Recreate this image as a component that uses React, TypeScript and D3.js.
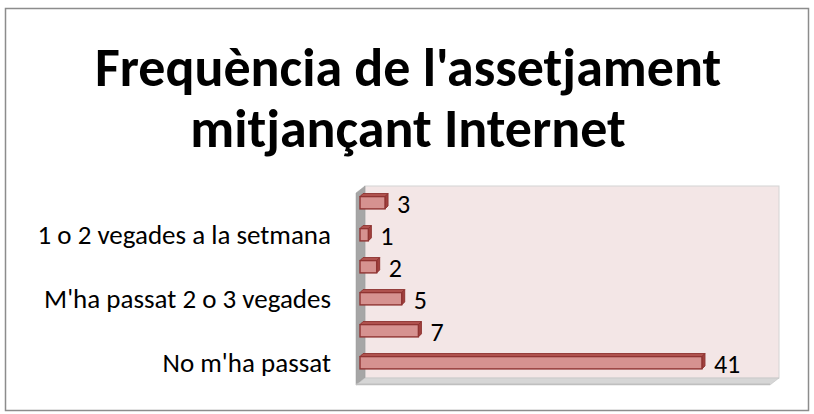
import React, { useEffect, useRef } from 'react'
import * as d3 from 'd3'

// bottom to top, as in the chart
const categories = ["No m'ha passat", "cat2", "M'ha passat 2 o 3 vegades", "cat4", "1 o 2 vegades a la setmana", "cat6"]
const tickLabels = ["No m'ha passat", "", "M'ha passat 2 o 3 vegades", "", "1 o 2 vegades a la setmana", ""]
const values = [41, 7, 5, 2, 1, 3]
const titleLines = ["Frequència de l'assetjament", "mitjançant Internet"]

const FONT = "Carlito, Calibri, Lato, 'Open Sans', sans-serif"

export default function App() {
  const ref = useRef<SVGSVGElement>(null)

  useEffect(() => {
    const svg = d3.select(ref.current)
    svg.selectAll('*').remove()

    const w = 814
    const h = 414
    const dx = 9
    const dy = -7
    const plot = { left: 356, right: 770, top: 193, bottom: 385 }

    svg.attr('width', w).attr('height', h)

    // chart frame
    svg.append('rect').attr('x', 5.5).attr('y', 8.5).attr('width', 803).attr('height', 402)
      .attr('fill', 'white').attr('stroke', '#8c8c8c').attr('stroke-width', 1.5)

    // title
    svg.append('g').selectAll('text').data(titleLines).join('text')
      .attr('x', 408).attr('y', (d, i) => 86 + i * 61)
      .attr('text-anchor', 'middle')
      .style('font-family', FONT).style('font-weight', 'bold').style('font-size', '54px')
      .text(d => d)

    // bands sit on the back plane
    const yScale = d3.scaleBand().domain(categories).range([plot.bottom + dy, plot.top + dy]).paddingInner(0.6).paddingOuter(0.3)
    const xScale = d3.scaleLinear().domain([0, 50]).range([plot.left + 4, plot.right + 7])

    const x0 = plot.left
    const x1 = plot.right
    // back wall
    svg.append('rect').attr('x', x0 + dx).attr('y', plot.top + dy).attr('width', x1 - x0).attr('height', plot.bottom - plot.top)
      .attr('fill', '#f3e6e6').attr('stroke', '#d4d4d4').attr('stroke-width', 1)
    // left wall
    svg.append('polygon')
      .attr('points', [[x0, plot.top], [x0 + dx, plot.top + dy], [x0 + dx, plot.bottom + dy], [x0, plot.bottom]].map(p => p.join(',')).join(' '))
      .attr('fill', '#a6a6a6').attr('stroke', '#9a9a9a').attr('stroke-width', 0.5)
    // floor
    svg.append('polygon')
      .attr('points', [[x0, plot.bottom], [x0 + dx, plot.bottom + dy], [x1 + dx, plot.bottom + dy], [x1, plot.bottom]].map(p => p.join(',')).join(' '))
      .attr('fill', '#d6d6d6').attr('stroke', '#bdbdbd').attr('stroke-width', 0.5)
    svg.append('rect').attr('x', x0).attr('y', plot.bottom - 1.5).attr('width', x1 - x0).attr('height', 1.5).attr('fill', '#bfbfbf')

    // bars
    const bd = 3
    const bars = svg.append('g').selectAll('g').data(values).join('g')
    const by = (i: number) => (yScale(categories[i]) as number) + 1
    const bh = yScale.bandwidth() - 0.5
    bars.append('polygon')
      .attr('points', (d, i) => {
        const a = xScale(0), b = xScale(d), y = by(i)
        return [[a, y], [a + bd, y - bd], [b + bd, y - bd], [b, y]].map(p => p.join(',')).join(' ')
      })
      .attr('fill', '#b35552').attr('stroke', '#8f3432').attr('stroke-width', 1)
    bars.append('polygon')
      .attr('points', (d, i) => {
        const b = xScale(d), y = by(i)
        return [[b, y], [b + bd, y - bd], [b + bd, y + bh - bd], [b, y + bh]].map(p => p.join(',')).join(' ')
      })
      .attr('fill', '#a0413e').attr('stroke', '#8f3432').attr('stroke-width', 1)
    bars.append('rect')
      .attr('x', xScale(0)).attr('y', (d, i) => by(i))
      .attr('width', d => xScale(d) - xScale(0)).attr('height', bh)
      .attr('fill', '#d69290').attr('stroke', '#8f3432').attr('stroke-width', 1.4)

    // value labels
    svg.append('g').selectAll('text').data(values).join('text')
      .attr('x', d => xScale(d) + 12).attr('y', (d, i) => by(i) + bh / 2)
      .attr('dy', '0.4em')
      .style('font-family', FONT).style('font-size', '26px')
      .text(d => d)

    // category labels
    const yAxis = d3.axisLeft(yScale).tickSize(0).tickPadding(0).tickFormat((d, i) => tickLabels[i])
    const axisG = svg.append('g').attr('transform', `translate(331, 1)`).call(yAxis)
    axisG.select('.domain').remove()
    axisG.selectAll('text').style('font-family', FONT).style('font-size', '27px').attr('fill', 'black')
  }, [])

  return (
    <div style={{ position: 'absolute', left: 0, top: 0 }}>
      <svg ref={ref}></svg>
    </div>
  )
}
